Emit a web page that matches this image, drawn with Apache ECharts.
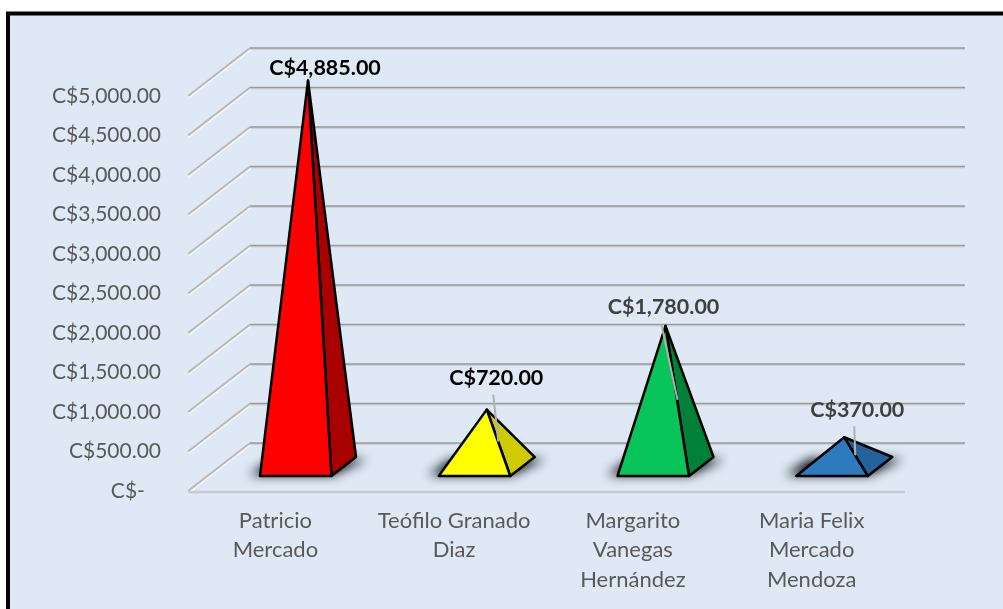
<!DOCTYPE html>
<html><head><meta charset="utf-8">
<style>html,body{margin:0;padding:0;background:#fff}#c{width:1003px;height:609px}</style>
<script src="https://cdn.jsdelivr.net/npm/echarts@6/dist/echarts.min.js"></script>
</head><body><div id="c"></div>
<script>
const categories = ['Patricio\nMercado', 'Teófilo Granado\nDiaz', 'Margarito\nVanegas\nHernández', 'Maria Felix\nMercado\nMendoza'];
const values = [4885, 720, 1780, 370];
const valueLabels = ['C$4,885.00', 'C$720.00', 'C$1,780.00', 'C$370.00'];
const ticks = [0, 500, 1000, 1500, 2000, 2500, 3000, 3500, 4000, 4500, 5000];
const tickLabels = ['C$-\u00a0\u00a0\u00a0', 'C$500.00', 'C$1,000.00', 'C$1,500.00', 'C$2,000.00', 'C$2,500.00', 'C$3,000.00', 'C$3,500.00', 'C$4,000.00', 'C$4,500.00', 'C$5,000.00'];

// appearance
const FONT = 'Lato, "Noto Sans", sans-serif';
const frontColors = ['#ff0000', '#ffff00', '#08c45a', '#2e7abf'];
const sideColors = ['#a90000', '#cfcb00', '#008038', '#25629b'];
const labelColors = ['#000000', '#000000', '#404040', '#404040'];
const DX = 62, DY = -48, T_FRONT = 0.3125, T_BACK = 0.708, WIDTH_RATIO = 0.4, NUDGE_X = -1;
const labelOffsets = [[17, -13], [9.5, -32], [-2, -19], [13, -27]];
const leaders = [null, [[6.5, -15], [11.5, 32]], [[-4, -1], [12, 74]], [[10, -11], [11, 18]]];
const SHADOW_SHIFT = 3000;

function renderGrid(params, api) {
  const cs = params.coordSys;
  const v = api.value(1);
  const y = api.coord([0, v])[1];
  const left = cs.x, right = cs.x + cs.width;
  const isFloor = v === 0;
  const children = [
    { type: 'polyline', shape: { points: [[left, y + 1], [left + DX, y + DY + 1]] },
      style: { fill: 'none', stroke: '#f4f6f9', lineWidth: 3.5 } },
    { type: 'polyline', shape: { points: [[left, y], [left + DX, y + DY]] },
      style: { fill: 'none', stroke: '#b8b8b8', lineWidth: 2.2 } },
    { type: 'polyline', shape: { points: [[left + DX, y + DY + 1], [right + DX, y + DY + 1]] },
      style: { fill: 'none', stroke: '#cfd3d8', lineWidth: 2 } },
    { type: 'polyline', shape: { points: [[left + DX, y + DY], [right + DX, y + DY]] },
      style: { fill: 'none', stroke: '#9a9a9a', lineWidth: 1.6 } }
  ];
  if (isFloor) {
    children.push({ type: 'polyline', shape: { points: [[left, y + 1], [right + 2, y + 1]] },
      style: { fill: 'none', stroke: '#c8ccd0', lineWidth: 2.6 } });
  }
  return { type: 'group', children };
}

function renderPyramid(params, api) {
  const i = params.dataIndex;
  const base = api.coord([api.value(0), 0]);
  const top = api.coord([api.value(0), api.value(1)]);
  const w = api.size([1, 0])[0] * WIDTH_RATIO;
  const cx = base[0] + NUDGE_X;
  const at = (x, t) => [x + DX * t, base[1] + DY * t];
  const fl = at(cx - w / 2, T_FRONT), fr = at(cx + w / 2, T_FRONT);
  const bl = at(cx - w / 2, T_BACK), br = at(cx + w / 2, T_BACK);
  const tm = (T_FRONT + T_BACK) / 2;
  const apex = [cx + DX * tm, top[1] + DY * tm];
  const edge = { stroke: '#000', lineWidth: 2.5, lineJoin: 'round' };
  const sl = at(cx - w / 2 - 12, T_FRONT + 0.02), sr = at(cx + w / 2, T_FRONT + 0.02);
  const tl = at(cx - w / 2 - 9, T_BACK - 0.04), tr = at(cx + w / 2 + 13, T_BACK - 0.04);
  const off = p => [p[0] - SHADOW_SHIFT, p[1]];
  const children = [
    { type: 'polygon', shape: { points: [sl, sr, tr, tl].map(off) },
      style: { fill: '#000', shadowBlur: 11, shadowOffsetX: SHADOW_SHIFT, shadowColor: 'rgba(8,10,16,1)' } },
    { type: 'polygon', shape: { points: [fr, br, apex] }, style: Object.assign({ fill: sideColors[i] }, edge) },
    { type: 'polygon', shape: { points: [fl, fr, apex] }, style: Object.assign({ fill: frontColors[i] }, edge) }
  ];
  if (leaders[i]) {
    const a = leaders[i][0], b = leaders[i][1];
    children.push({ type: 'line',
      shape: { x1: apex[0] + a[0], y1: apex[1] + a[1], x2: apex[0] + b[0], y2: apex[1] + b[1] },
      style: { stroke: '#b0b0b0', lineWidth: 2 } });
  }
  const o = labelOffsets[i];
  children.push({ type: 'text',
    style: { text: valueLabels[i], x: apex[0] + o[0], y: apex[1] + o[1], align: 'center', verticalAlign: 'middle',
      fill: labelColors[i], font: 'bold 21.5px ' + FONT } });
  return { type: 'group', children };
}

const chart = echarts.init(document.getElementById('c'), null, { renderer: 'canvas', width: 1003, height: 609 });
chart.setOption({
  animation: false,
  backgroundColor: '#ffffff',
  graphic: [{ type: 'rect', z: -10, silent: true, shape: { x: 8, y: 13.5, width: 1100, height: 800 },
    style: { fill: '#dee9f5', stroke: '#000000', lineWidth: 4 } }],
  grid: { left: 188, top: 96, width: 715, height: 395, containLabel: false },
  xAxis: { type: 'category', data: categories,
    axisLine: { show: false }, axisTick: { show: false }, splitLine: { show: false },
    axisLabel: { interval: 0, margin: 15, color: '#595959', fontFamily: FONT, fontSize: 22, lineHeight: 29.5, padding: [0, 4, 0, 0], hideOverlap: false } },
  yAxis: { type: 'value', min: 0, max: 5000, interval: 500,
    axisLine: { show: false }, axisTick: { show: false }, splitLine: { show: false },
    axisLabel: { margin: 27, color: '#595959', fontFamily: FONT, fontSize: 21,
      formatter: v => tickLabels[ticks.indexOf(v)] } },
  series: [
    { type: 'custom', z: 1, clip: false, silent: true, renderItem: renderGrid,
      encode: { x: 0, y: 1 }, data: ticks.map(t => [0, t]) },
    { type: 'custom', z: 2, clip: false, silent: true, renderItem: renderPyramid,
      encode: { x: 0, y: 1 }, data: values.map((v, i) => [i, v]) }
  ]
});
</script></body></html>
